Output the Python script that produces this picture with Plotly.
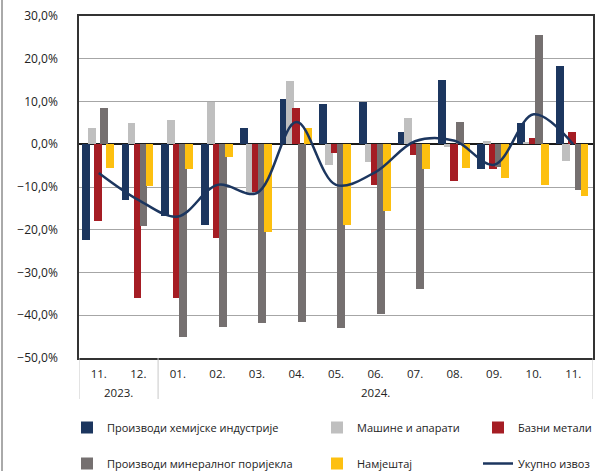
import plotly.graph_objects as go

months = ["11.", "12.", "01.", "02.", "03.", "04.", "05.", "06.", "07.", "08.", "09.", "10.", "11."]
years = ["2023.", "2023."] + ["2024."] * 11

chem = [-22.3, -13.0, -16.7, -18.9, 3.8, 10.6, 9.5, 9.8, 2.9, 15.0, -5.9, 5.0, 18.3]
machines = [3.8, 5.0, 5.6, 9.8, -11.6, 14.8, -4.8, -4.2, 6.2, -0.7, 0.7, 0.5, -3.8]
metals = [-18.0, -35.9, -35.9, -22.0, -11.1, 8.4, -2.0, -9.5, -2.4, -8.7, -5.9, 1.5, 2.9]
mineral = [8.4, -19.2, -45.2, -42.8, -41.9, -41.6, -43.0, -39.8, -33.8, 5.2, -5.4, 25.6, -10.6]
furniture = [-5.5, -9.8, -5.7, -3.0, -20.5, 3.8, -18.8, -15.5, -5.8, -5.5, -8.0, -9.5, -12.2]
total = [-6.7, -13.0, -16.9, -9.5, -11.4, 5.2, -9.5, -6.5, 0.7, 0.8, -4.8, 7.0, 0.0]

names = ["Производи хемијске индустрије", "Машине и апарати", "Базни метали",
         "Производи минералног поријекла", "Намјештај"]
series = [chem, machines, metals, mineral, furniture]
colors = ["#1c365f", "#bfbfbf", "#a51d24", "#757070", "#fdc010"]
offsets = [-0.424, -0.272, -0.12, 0.032, 0.184]
legend_of = ["legend", "legend2", "legend3", "legend", "legend2"]

idx = list(range(len(months)))

L, R, T, B = 79, 7, 16, 113
W, H = 600, 471
pw, ph = W - L - R, H - T - B


def px_x(p):
    return (p - L) / pw


def px_y(p):
    return (T + ph - p) / ph


fig = go.Figure()
for nm, vals, col, off, lg in zip(names, series, colors, offsets, legend_of):
    fig.add_trace(go.Bar(x=idx, y=vals, name=nm, marker=dict(color=col, line=dict(width=0)),
                         offset=off, width=0.2, legend=lg, legendgroup=nm))
fig.add_trace(go.Scatter(x=idx, y=total, name="Укупно извоз", mode="lines",
                         line=dict(color="#1c365f", width=2.5, shape="spline", smoothing=1),
                         legend="legend3", legendgroup="total"))

# year group labels and dividers
groups = []
for i, yv in enumerate(years):
    if not groups or groups[-1][0] != yv:
        groups.append([yv, i, i])
    else:
        groups[-1][2] = i

annotations = []
shapes = [dict(type="line", xref="paper", yref="paper",
               x0=px_x(2), x1=px_x(2), y0=px_y(H), y1=px_y(0),
               line=dict(color="#555", width=1))]
for yv, a, b in groups:
    annotations.append(dict(x=(a + b) / 2, y=px_y(392), xref="x", yref="paper",
                            text=yv, showarrow=False, font=dict(size=11.5, color="#222"),
                            xanchor="center", yanchor="middle"))
    shapes.append(dict(type="line", xref="x", yref="paper", x0=a - 0.5, x1=a - 0.5,
                       y0=0, y1=px_y(399), line=dict(color="#c8c8c8", width=1)))
shapes.append(dict(type="line", xref="x", yref="paper", x0=len(idx) - 0.5, x1=len(idx) - 0.5,
                   y0=0, y1=px_y(399), line=dict(color="#c8c8c8", width=1)))

leg_common = dict(orientation="v", xanchor="left", yanchor="top", y=px_y(413),
                  font=dict(size=11, color="#222"), tracegroupgap=17,
                  bgcolor="rgba(0,0,0,0)")
fig.update_layout(
    width=W, height=H, barmode="overlay", bargap=0,
    margin=dict(l=L, r=R, t=T, b=B, autoexpand=False),
    plot_bgcolor="white", paper_bgcolor="white",
    separators=", ",
    font=dict(family="Open Sans", size=11, color="#222"),
    legend=dict(x=px_x(67), **leg_common),
    legend2=dict(x=px_x(317), **leg_common),
    legend3=dict(x=px_x(478), **leg_common),
    shapes=shapes, annotations=annotations,
)
fig.update_yaxes(range=[-50, 30], dtick=10, tickformat=".1f", ticksuffix="%",
                 showgrid=True, gridcolor="#a6a6a6", gridwidth=1,
                 zeroline=True, zerolinecolor="#1a1a1a", zerolinewidth=2,
                 showline=True, linecolor="#333", linewidth=1.5, mirror=True,
                 ticks="", ticklabelstandoff=17, tickfont=dict(size=12))
fig.update_xaxes(range=[-0.5, len(idx) - 0.5], tickmode="array", tickvals=idx, ticktext=months,
                 showgrid=False, zeroline=False,
                 showline=True, linecolor="#333", linewidth=1.5, mirror=True,
                 tickfont=dict(size=11.5), ticks="", ticklabelstandoff=4)
fig.write_html("out.html", config={"displayModeBar": False},
               post_script="document.body.style.margin='0';document.body.style.overflow='hidden';")
